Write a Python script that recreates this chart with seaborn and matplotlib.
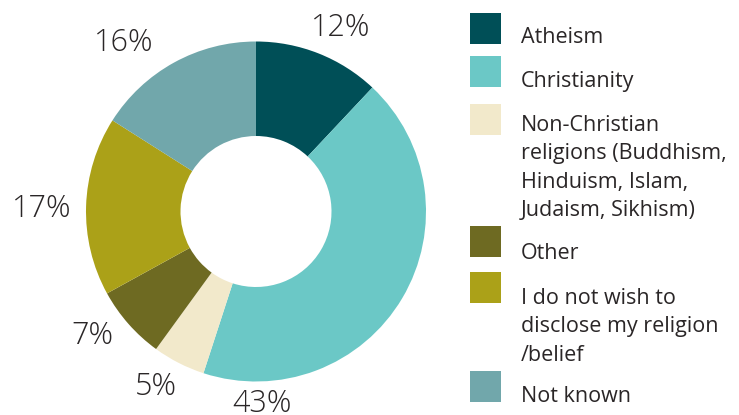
import matplotlib
matplotlib.use("Agg")
import matplotlib.pyplot as plt
from matplotlib.patches import Rectangle
import seaborn as sns

# ---- data ----
categories = [
    "Atheism",
    "Christianity",
    "Non-Christian\nreligions (Buddhism,\nHinduism, Islam,\nJudaism, Sikhism)",
    "Other",
    "I do not wish to\ndisclose my religion\n/belief",
    "Not known",
]
values = [12, 43, 5, 7, 17, 16]
pct_labels = ["12%", "43%", "5%", "7%", "17%", "16%"]
colors_hex = ["#004f57", "#6bc8c6", "#f2e9cb", "#6e6a22", "#aba118", "#71a7ab"]

# label positions (in units of the donut radius, relative to centre)
label_pos = [(0.50, 1.08), (0.035, -1.135), (-0.591, -1.03),
             (-0.962, -0.735), (-1.262, 0.012), (-0.776, 0.99)]

sns.set_theme(style="white")
plt.rcParams['font.family'] = ['Open Sans', 'DejaVu Sans']
palette = sns.color_palette(colors_hex)

W, H = 739, 415
fig = plt.figure(figsize=(W / 100, H / 100), dpi=100)

# donut geometry in pixels
cx, cy, R, r_in = 256, 211.5, 170, 75.5
ax = fig.add_axes([(cx - R) / W, (H - cy - R) / H, 2 * R / W, 2 * R / H])
ax.pie(values, colors=palette, startangle=90, counterclock=False, radius=1,
       wedgeprops=dict(width=1 - r_in / R, edgecolor="none", linewidth=0))
ax.set_xlim(-1, 1)
ax.set_ylim(-1, 1)
ax.set_aspect("equal")
ax.axis("off")
ax.set_clip_on(False)

text_color = "#2a2627"
for lab, (lx, ly) in zip(pct_labels, label_pos):
    ax.text(lx, ly, lab, ha="center", va="center", fontsize=22,
            fontweight="light", color=text_color, clip_on=False)

# legend (manual, pixel based)
sq_x, sq_size = 470, 31
sq_tops = [13, 56, 104, 226, 272, 371]
baseline_off = [30, 30.5, 27, 33, 32, 31]
line_step = 28.3
for cat, col, top, boff in zip(categories, palette, sq_tops, baseline_off):
    fig.add_artist(Rectangle((sq_x / W, (H - top - sq_size) / H), sq_size / W,
                             sq_size / H, transform=fig.transFigure,
                             facecolor=col, edgecolor="none"))
    for i, line in enumerate(cat.split("\n")):
        y = top + boff + i * line_step
        fig.text(521 / W, (H - y) / H, line, ha="left", va="baseline",
                 fontsize=15.5, color=text_color)

fig.savefig("out.png", dpi=100)
